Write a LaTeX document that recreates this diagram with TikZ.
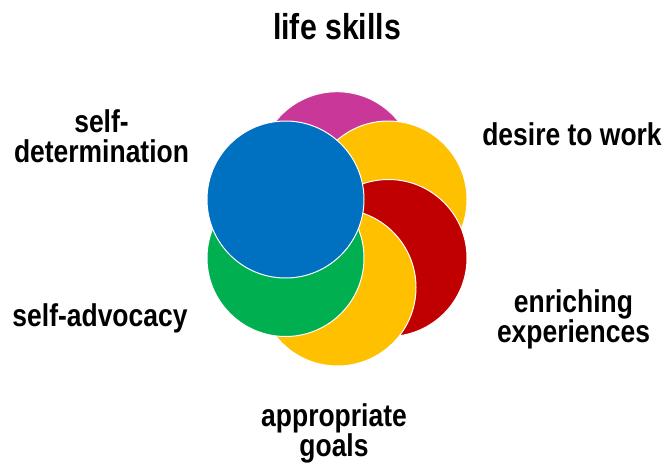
\documentclass[tikz,border=0pt]{standalone}
\usepackage{fontspec}
\setmainfont[FakeStretch=0.84]{Liberation Sans}
\definecolor{cMag}{HTML}{C93799}
\definecolor{cGold}{HTML}{FFC000}
\definecolor{cRed}{HTML}{C00000}
\definecolor{cGreen}{HTML}{00B050}
\definecolor{cBlue}{HTML}{0070C0}
\tikzset{
  petal/.style={circle, draw=white, line width=1pt, minimum size=157pt, inner sep=0pt},
  lbl/.style={font=\bfseries\fontsize{31.5}{30}\selectfont, align=center, anchor=base, inner sep=0pt},
  ttl/.style={font=\bfseries\fontsize{36}{36}\selectfont, anchor=base, inner sep=0pt}
}
\begin{document}
\begin{tikzpicture}[x=1pt,y=-1pt]
\useasboundingbox (0,0) rectangle (669,466);
\node[petal, fill=cMag]   (mag)   at (337,170.2) {};
\node[petal, fill=cGold]  (gold1) at (388.5,199.5) {};
\node[petal, fill=cRed]   (red)   at (388.5,258) {};
\node[petal, fill=cGold]  (gold2) at (337.5,287.5) {};
\node[petal, fill=cGreen] (green) at (285.5,258) {};
\node[petal, fill=cBlue]  (blue)  at (285.5,199.5) {};
\node[ttl] (title) at (337,39.3) {life skills};
\node[lbl] (sd) at (101.5,162.7) {self-\\determination};
\node[lbl] (dw) at (572,145) {desire to work};
\node[lbl] (sa) at (100,326.7) {self-advocacy};
\node[lbl] (ee) at (573.5,342.7) {enriching\\experiences};
\node[lbl] (ag) at (334,456.7) {appropriate\\goals};
\end{tikzpicture}
\end{document}
